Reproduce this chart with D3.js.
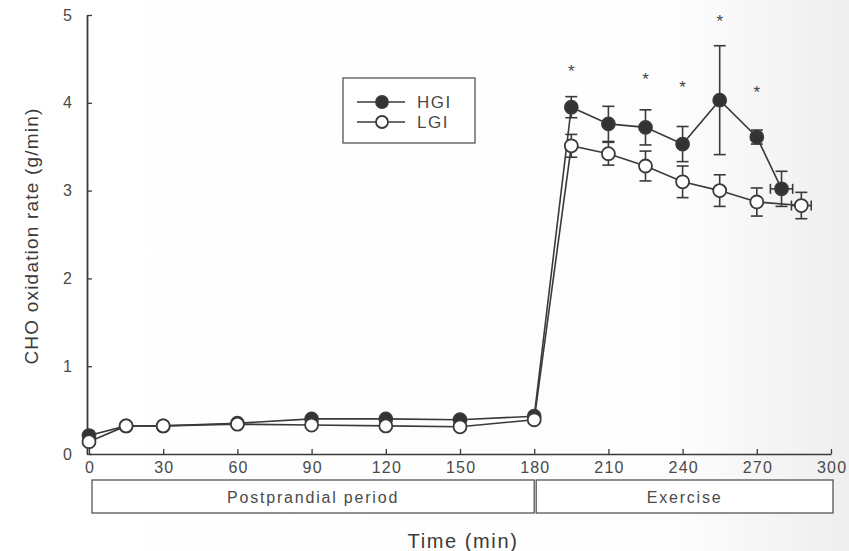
<!DOCTYPE html>
<html><head><meta charset="utf-8">
<script src="https://cdn.jsdelivr.net/npm/d3@7"></script>
<style>body{margin:0;background:#fff}svg{display:block;font-family:"Liberation Sans",Arial,sans-serif}</style>
</head><body>
<script>
const times = [0,15,30,60,90,120,150,180,195,210,225,240,255,270,280];
const timesLGI = [0,15,30,60,90,120,150,180,195,210,225,240,255,270,288];
const hgi = [0.21,0.32,0.32,0.35,0.40,0.40,0.39,0.43,3.95,3.76,3.72,3.53,4.03,3.61,3.02];
const hgiErr = [0,0,0,0,0,0,0,0,0.12,0.2,0.2,0.2,0.62,0.08,0.2];
const lgi = [0.14,0.32,0.32,0.34,0.33,0.32,0.31,0.39,3.51,3.42,3.28,3.10,3.00,2.87,2.83];
const lgiErr = [0,0,0,0,0,0,0,0,0.13,0.13,0.17,0.18,0.18,0.16,0.15];
const hgiXErr = [0,0,0,0,0,0,0,0,0,0,0,0,0,0,4.5];
const lgiXErr = [0,0,0,0,0,0,0,0,0,0,0,0,0,0,4];
const sigTimes = [195,225,240,255,270];
const sigY = [4.38,4.29,4.2,4.95,4.15];
const xTicks = [0,30,60,90,120,150,180,210,240,270,300];
const yTicks = [0,1,2,3,4,5];
const phases = ["Postprandial period","Exercise"];
const phaseStart = [0,180];
const phaseEnd = [180,300];

const W=849,H=551;
const svg=d3.select("body").append("svg").attr("width",W).attr("height",H);
const defs=svg.append("defs");
const g=defs.append("linearGradient").attr("id","bg").attr("x1","0").attr("x2","1");
g.append("stop").attr("offset","0").attr("stop-color","#ffffff");
g.append("stop").attr("offset","0.8").attr("stop-color","#fdfdfd");
g.append("stop").attr("offset","1").attr("stop-color","#eeeeee");
svg.append("rect").attr("width",W).attr("height",H).attr("fill","url(#bg)");

const x=d3.scaleLinear().domain([0,300]).range([89,831]);
const y=d3.scaleLinear().domain([0,5]).range([454,15]);
const ink="#3a3a3a", txt="#4a4a4a";

const xa=svg.append("g").attr("transform",`translate(0,${y(0)})`)
 .call(d3.axisBottom(x).tickValues(xTicks).tickSizeInner(-5).tickSizeOuter(0).tickPadding(8));
const ya=svg.append("g").attr("transform",`translate(${x(0)-2},0)`)
 .call(d3.axisLeft(y).tickValues(yTicks).tickSizeInner(-5).tickSizeOuter(0).tickPadding(14).tickFormat(d3.format("d")));
[xa,ya].forEach(a=>{a.selectAll("path,line").attr("stroke",ink).attr("stroke-width",1.3);
 a.selectAll("text").attr("fill",txt).attr("font-size",16).attr("letter-spacing",1.2);});
xa.selectAll("text").attr("dx","0.6");
ya.select(".domain").attr("stroke-width",1.8);

// axis labels
svg.append("text").attr("x",463).attr("y",548).attr("text-anchor","middle").attr("font-size",20).attr("letter-spacing",1.6).attr("fill","#3a3a3a").text("Time (min)");
svg.append("text").attr("transform","translate(38,236) rotate(-90)").attr("text-anchor","middle").attr("font-size",19).attr("letter-spacing",1.2).attr("fill","#3a3a3a").text("CHO oxidation rate (g/min)");

// phase boxes
phases.forEach((p,i)=>{
 const x0=x(phaseStart[i])+(i?2:3), x1=x(phaseEnd[i])+(i?2:0);
 svg.append("rect").attr("x",x0).attr("y",480).attr("width",x1-x0).attr("height",33)
  .attr("fill","#fff").attr("stroke","#555").attr("stroke-width",1.3);
 svg.append("text").attr("x",(x0+x1)/2).attr("y",503).attr("text-anchor","middle").attr("font-size",16).attr("letter-spacing",1.8).attr("fill",txt).text(p);
});

function series(ts,vals,errs,xerrs,filled){
 const pts=ts.map((t,i)=>({t,v:vals[i],e:errs[i],xe:xerrs[i]}));
 svg.append("path").datum(pts).attr("fill","none").attr("stroke",ink).attr("stroke-width",1.6)
  .attr("d",d3.line().x(d=>x(d.t)).y(d=>y(d.v)));
 const eb=svg.append("g").attr("stroke",ink).attr("stroke-width",1.6);
 pts.filter(d=>d.e>0).forEach(d=>{
  const cx=x(d.t);
  eb.append("line").attr("x1",cx).attr("x2",cx).attr("y1",y(d.v+d.e)).attr("y2",y(d.v-d.e));
  [d.v+d.e,d.v-d.e].forEach(v=>eb.append("line").attr("x1",cx-6).attr("x2",cx+6).attr("y1",y(v)).attr("y2",y(v)));
 });
 pts.filter(d=>d.xe>0).forEach(d=>{
  const cy=y(d.v);
  eb.append("line").attr("x1",x(d.t-d.xe)).attr("x2",x(d.t+d.xe)).attr("y1",cy).attr("y2",cy);
  [d.t-d.xe,d.t+d.xe].forEach(t=>eb.append("line").attr("x1",x(t)).attr("x2",x(t)).attr("y1",cy-5).attr("y2",cy+5));
 });
 svg.append("g").selectAll("circle").data(pts).join("circle")
  .attr("cx",d=>x(d.t)).attr("cy",d=>y(d.v)).attr("r",6.5)
  .attr("fill",filled?"#333":"#fff").attr("stroke",ink).attr("stroke-width",1.8);
}
series(times,hgi,hgiErr,hgiXErr,true);
series(timesLGI,lgi,lgiErr,lgiXErr,false);

// significance markers
svg.append("g").selectAll("text").data(sigTimes).join("text")
 .attr("x",d=>x(d)).attr("y",(d,i)=>y(sigY[i])+8).attr("text-anchor","middle").attr("font-size",17).attr("fill","#444").text("*");

// legend
const lg=svg.append("g");
lg.append("rect").attr("x",343).attr("y",78).attr("width",132).attr("height",65).attr("fill","#fff").attr("stroke","#555").attr("stroke-width",1.3);
[["HGI",true],["LGI",false]].forEach(([name,f],i)=>{
 const yy=102+i*20;
 lg.append("line").attr("x1",357).attr("x2",405).attr("y1",yy).attr("y2",yy).attr("stroke",ink).attr("stroke-width",1.6);
 lg.append("circle").attr("cx",382).attr("cy",yy).attr("r",6).attr("fill",f?"#333":"#fff").attr("stroke",ink).attr("stroke-width",1.8);
 lg.append("text").attr("x",417).attr("y",yy+6).attr("font-size",17).attr("letter-spacing",1.5).attr("fill",txt).text(name);
});
</script>
</body></html>
